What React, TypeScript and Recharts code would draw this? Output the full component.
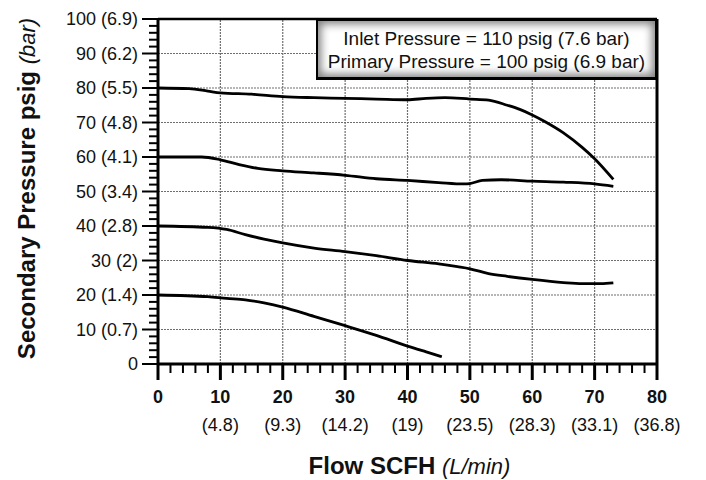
import { LineChart, Line, XAxis, YAxis, ReferenceLine, Label } from 'recharts'

const FONT = '"Liberation Sans", Arial, sans-serif'

// axis ticks
const xMajor = [0, 10, 20, 30, 40, 50, 60, 70, 80]
const xMetric = ['', '(4.8)', '(9.3)', '(14.2)', '(19)', '(23.5)', '(28.3)', '(33.1)', '(36.8)']
const yMajor = [0, 10, 20, 30, 40, 50, 60, 70, 80, 90, 100]
const yLabels = ['0', '10 (0.7)', '20 (1.4)', '30 (2)', '40 (2.8)', '50 (3.4)', '60 (4.1)', '70 (4.8)', '80 (5.5)', '90 (6.2)', '100 (6.9)']
const xTicks = Array.from({ length: 41 }, (_, i) => i * 2)
const yTicks = Array.from({ length: 51 }, (_, i) => i * 2)

// curves, [flow SCFH, secondary psig]
const set80 = [[0, 80], [5, 79.8], [8, 79.1], [10, 78.6], [15, 78.2], [20, 77.5], [25, 77.2], [30, 77], [35, 76.8], [40, 76.6], [43, 77], [46, 77.2], [50, 76.8], [53, 76.5], [56, 75], [58, 73.8], [60, 72.2], [62, 70.3], [65, 67], [68, 62.8], [70, 59.5], [73, 53.5]]
const set60 = [[0, 60], [7, 60], [10, 59.2], [13, 57.8], [16, 56.7], [20, 56], [25, 55.4], [30, 54.7], [35, 53.7], [40, 53.2], [45, 52.6], [49, 52.2], [50, 52.3], [52, 53.2], [55, 53.4], [60, 53], [65, 52.7], [70, 52.2], [73, 51.5]]
const set40 = [[0, 40], [8, 39.6], [11, 39], [14, 37.5], [17, 36.2], [20, 35.1], [25, 33.6], [30, 32.6], [35, 31.4], [40, 30], [45, 29], [48, 28.2], [50, 27.6], [53, 26.2], [56, 25.4], [60, 24.5], [65, 23.6], [68, 23.3], [71, 23.3], [73, 23.5]]
const set20 = [[0, 20], [8, 19.5], [11, 19], [14, 18.6], [17, 17.7], [20, 16.5], [25, 13.8], [30, 11.1], [35, 8.3], [40, 5.2], [43, 3.5], [45.5, 2.1]]

const curves = [set80, set60, set40, set20].map(s => s.map(([x, y]) => ({ x, y })))

const legendLines = ['Inlet Pressure = 110 psig (7.6 bar)', 'Primary Pressure = 100 psig (6.9 bar)']

function YTick({ x, y, payload }: any) {
  const v = payload.value
  const i = yMajor.indexOf(v)
  const major = i >= 0
  return (
    <g>
      <line x1={x - (major ? 16 : 9)} x2={x} y1={y} y2={y} stroke="#000" strokeWidth={2} />
      {major && (
        <text x={x - 20} y={y} dy={6} textAnchor="end" style={{ fontSize: 18, fontFamily: FONT }} fill="#111">{yLabels[i]}</text>
      )}
    </g>
  )
}

function XTick({ x, y, payload }: any) {
  const v = payload.value
  const i = xMajor.indexOf(v)
  const major = i >= 0
  return (
    <g>
      <line x1={x} x2={x} y1={y} y2={y + (major ? 16 : 9)} stroke="#000" strokeWidth={major ? 3 : 2} />
      {major && (
        <text x={x} y={y + 39} textAnchor="middle" style={{ fontSize: 18, fontWeight: 'bold', fontFamily: FONT }} fill="#111">{v}</text>
      )}
      {major && xMetric[i] && (
        <text x={x} y={y + 67} textAnchor="middle" style={{ fontSize: 18, fontFamily: FONT }} fill="#111">{xMetric[i]}</text>
      )}
    </g>
  )
}

function YTitle({ viewBox }: any) {
  const cx = viewBox.x + 35
  const cy = viewBox.y + viewBox.height / 2 - 3
  return (
    <text x={cx} y={cy} transform={`rotate(-90 ${cx} ${cy})`} textAnchor="middle" fontFamily={FONT} fill="#111">
      <tspan fontSize={24} fontWeight="bold">Secondary Pressure psig </tspan>
      <tspan fontSize={22} fontStyle="italic">(bar)</tspan>
    </text>
  )
}

function XTitle({ viewBox }: any) {
  return (
    <text x={viewBox.x + viewBox.width / 2 + 2} y={viewBox.y + 110} textAnchor="middle" fontFamily={FONT} fill="#111">
      <tspan fontSize={24} fontWeight="bold">Flow SCFH </tspan>
      <tspan fontSize={22} fontStyle="italic">(L/min)</tspan>
    </text>
  )
}

export default function App() {
  return (
    <div style={{ position: 'relative', width: 706, height: 480, background: '#fff', fontFamily: FONT }}>
      <style>{'body{margin:0}'}</style>
      <LineChart width={706} height={480} margin={{ top: 19, right: 49, bottom: 0, left: 0 }}>
        <XAxis
          type="number"
          dataKey="x"
          domain={[0, 80]}
          ticks={xTicks}
          interval={0}
          height={116}
          tickSize={0}
          tickMargin={0}
          tickLine={false}
          axisLine={{ stroke: '#000', strokeWidth: 3 }}
          tick={<XTick />}
        >
          <Label content={<XTitle />} />
        </XAxis>
        <YAxis
          type="number"
          domain={[0, 100]}
          ticks={yTicks}
          interval={0}
          width={158}
          tickSize={0}
          tickMargin={0}
          tickLine={false}
          axisLine={{ stroke: '#000', strokeWidth: 3 }}
          tick={<YTick />}
        >
          <Label content={<YTitle />} />
        </YAxis>
        {/* dotted grid */}
        {yMajor.slice(1, -1).map(v => (
          <ReferenceLine key={'gy' + v} y={v} stroke="#6f6f6f" strokeDasharray="2 1" strokeWidth={1.2} />
        ))}
        {xMajor.slice(1, -1).map(v => (
          <ReferenceLine key={'gx' + v} x={v} stroke="#6f6f6f" strokeDasharray="2 1" strokeWidth={1.2} />
        ))}
        <ReferenceLine y={100} stroke="#000" strokeWidth={2.5} />
        <ReferenceLine x={80} stroke="#000" strokeWidth={3} />
        {curves.map((d, i) => (
          <Line
            key={i}
            data={d}
            dataKey="y"
            type="monotone"
            stroke="#000"
            strokeWidth={2.8}
            dot={false}
            activeDot={false}
            isAnimationActive={false}
          />
        ))}
      </LineChart>
      <div
        style={{
          position: 'absolute',
          left: 316,
          top: 19,
          width: 342,
          height: 61,
          boxSizing: 'border-box',
          border: '2px solid #000',
          borderRightWidth: 3,
          borderBottomWidth: 3,
          background: '#fff',
          boxShadow: 'inset 0 0 9px 3px rgba(0,0,0,0.5)',
          paddingTop: 6,
          textAlign: 'center',
          fontSize: 19,
          lineHeight: '23px',
          color: '#111',
        }}
      >
        {legendLines.map(t => (
          <div key={t}>{t}</div>
        ))}
      </div>
    </div>
  )
}
